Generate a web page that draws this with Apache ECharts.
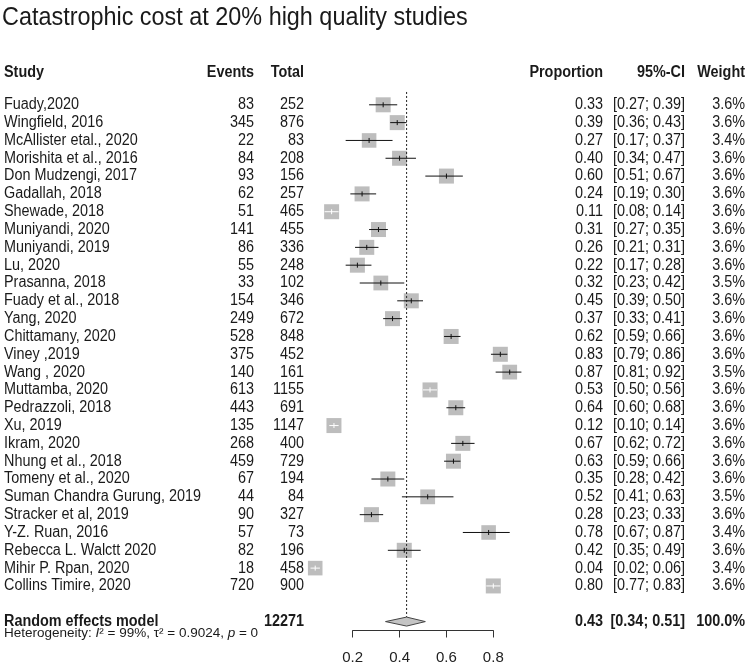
<!DOCTYPE html>
<html><head><meta charset="utf-8">
<script src="https://cdn.jsdelivr.net/npm/echarts/dist/echarts.min.js"></script>
<style>html,body{margin:0;padding:0;background:#fff}#c{width:749px;height:666px}</style>
</head><body><div id="c"></div>
<script>
// ---------- data ----------
const title = 'Catastrophic cost at 20% high quality studies';
const headers = ['Study', 'Events', 'Total', 'Proportion', '95%-CI', 'Weight'];
const studies = ['Fuady,2020', 'Wingfield, 2016', 'McAllister etal., 2020', 'Morishita et al., 2016',
  'Don Mudzengi, 2017', 'Gadallah, 2018', 'Shewade, 2018', 'Muniyandi, 2020', 'Muniyandi, 2019',
  'Lu, 2020', 'Prasanna, 2018', 'Fuady et al., 2018', 'Yang, 2020', 'Chittamany, 2020',
  'Viney ,2019', 'Wang , 2020', 'Muttamba, 2020', 'Pedrazzoli, 2018', 'Xu, 2019', 'Ikram, 2020',
  'Nhung et al., 2018', 'Tomeny et al., 2020', 'Suman Chandra Gurung, 2019', 'Stracker et al, 2019',
  'Y-Z. Ruan, 2016', 'Rebecca L. Walctt 2020', 'Mihir P. Rpan, 2020', 'Collins Timire, 2020'];
const events = [83, 345, 22, 84, 93, 62, 51, 141, 86, 55, 33, 154, 249, 528, 375, 140, 613, 443, 135, 268, 459, 67, 44, 90, 57, 82, 18, 720];
const totals = [252, 876, 83, 208, 156, 257, 465, 455, 336, 248, 102, 346, 672, 848, 452, 161, 1155, 691, 1147, 400, 729, 194, 84, 327, 73, 196, 458, 900];
const proportions = [0.33, 0.39, 0.27, 0.40, 0.60, 0.24, 0.11, 0.31, 0.26, 0.22, 0.32, 0.45, 0.37, 0.62, 0.83, 0.87, 0.53, 0.64, 0.12, 0.67, 0.63, 0.35, 0.52, 0.28, 0.78, 0.42, 0.04, 0.80];
const ciLower = [0.27, 0.36, 0.17, 0.34, 0.51, 0.19, 0.08, 0.27, 0.21, 0.17, 0.23, 0.39, 0.33, 0.59, 0.79, 0.81, 0.50, 0.60, 0.10, 0.62, 0.59, 0.28, 0.41, 0.23, 0.67, 0.35, 0.02, 0.77];
const ciUpper = [0.39, 0.43, 0.37, 0.47, 0.67, 0.30, 0.14, 0.35, 0.31, 0.28, 0.42, 0.50, 0.41, 0.66, 0.86, 0.92, 0.56, 0.68, 0.14, 0.72, 0.66, 0.42, 0.63, 0.33, 0.87, 0.49, 0.06, 0.83];
const weights = [3.6, 3.6, 3.4, 3.6, 3.6, 3.6, 3.6, 3.6, 3.6, 3.6, 3.5, 3.6, 3.6, 3.6, 3.6, 3.5, 3.6, 3.6, 3.6, 3.6, 3.6, 3.6, 3.5, 3.6, 3.4, 3.6, 3.4, 3.6];
const summaryLabel = 'Random effects model';
const summaryTotal = 12271;
const summaryEst = 0.43, summaryLower = 0.34, summaryUpper = 0.51;
const summaryWeight = '100.0%';
const heterogeneity = { I2: '99%', tau2: '0.9024', p: '0' };
const xMin = 0.2, xMax = 0.8, xInterval = 0.2;

// ---------- layout / style ----------
const FONT = "'Liberation Sans', Arial, sans-serif";
const SX = 0.9;              // horizontal squeeze of the text
const FS = 16;
const TXT = '#1a1a1a';
const BOXCOL = '#bdbdbd';
const BOX = 15;
const COL = { study: 4, events: 254, total: 304, prop: 603, ci: 685, weight: 745 };
const SUMROW = studies.length + 1;

function txt(x, y, s, align, bold, size) {
  return {
    type: 'text', x: x, y: y, scaleX: SX, silent: true,
    style: { text: s, x: 0, y: 0, align: align, verticalAlign: 'middle',
      fontFamily: FONT, fontSize: size || FS, fontWeight: bold ? 'bold' : 'normal', fill: TXT }
  };
}
const f2 = v => v.toFixed(2);
const ciTxt = (a, b) => '[' + f2(a) + '; ' + f2(b) + ']';

const studyData = studies.map((s, i) => [proportions[i], i, ciLower[i], ciUpper[i], weights[i]]);

function renderStudy(params, api) {
  const p = api.value(0), i = api.value(1), lo = api.value(2), hi = api.value(3), w = api.value(4);
  const c = api.coord([p, i]);
  const cl = api.coord([lo, i]), ch = api.coord([hi, i]);
  const s = BOX * Math.sqrt(w / 3.6);
  const lc = (ch[0] - cl[0]) < s ? '#ffffff' : '#111111';
  const y = c[1];
  return { type: 'group', children: [
    { type: 'rect', shape: { x: c[0] - s / 2, y: y - s / 2, width: s, height: s }, style: { fill: BOXCOL } },
    { type: 'line', shape: { x1: cl[0], y1: y, x2: ch[0], y2: y }, style: { stroke: lc, lineWidth: 1 } },
    { type: 'line', shape: { x1: c[0], y1: y - 2.5, x2: c[0], y2: y + 2.5 }, style: { stroke: lc, lineWidth: 1 } },
    txt(COL.study, y, studies[i], 'left'),
    txt(COL.events, y, String(events[i]), 'right'),
    txt(COL.total, y, String(totals[i]), 'right'),
    txt(COL.prop, y, f2(p), 'right'),
    txt(COL.ci, y, ciTxt(lo, hi), 'right'),
    txt(COL.weight, y, weights[i].toFixed(1) + '%', 'right')
  ] };
}

function renderSummary(params, api) {
  const est = api.value(0), r = api.value(1), lo = api.value(2), hi = api.value(3);
  const c = api.coord([est, r]), cl = api.coord([lo, r]), ch = api.coord([hi, r]);
  const top = api.coord([est, -0.72]);
  const hy = api.coord([est, -1.8])[1];
  const hetY = api.coord([est, r + 0.66])[1];
  const y = c[1], h = 4.5;
  return { type: 'group', children: [
    { type: 'line', shape: { x1: c[0], y1: top[1], x2: c[0], y2: y - h }, style: { stroke: '#222', lineWidth: 1, lineDash: [2, 2] } },
    { type: 'polygon', shape: { points: [[cl[0], y], [c[0], y - h], [ch[0], y], [c[0], y + h]] }, style: { fill: '#c4c4c4', stroke: '#444', lineWidth: 1 } },
    txt(COL.study, hy, headers[0], 'left', true),
    txt(COL.events, hy, headers[1], 'right', true),
    txt(COL.total, hy, headers[2], 'right', true),
    txt(COL.prop, hy, headers[3], 'right', true),
    txt(COL.ci, hy, headers[4], 'right', true),
    txt(COL.weight, hy, headers[5], 'right', true),
    txt(COL.study, y, summaryLabel, 'left', true),
    txt(COL.total, y, String(summaryTotal), 'right', true),
    txt(COL.prop, y, f2(est), 'right', true),
    txt(COL.ci, y, ciTxt(lo, hi), 'right', true),
    txt(COL.weight, y, summaryWeight, 'right', true),
    { type: 'text', x: COL.study, y: hetY, silent: true,
      style: { text: '{n|Heterogeneity: }{i|I}{n|² = ' + heterogeneity.I2 + ', τ² = ' + heterogeneity.tau2 + ', }{i|p}{n| = ' + heterogeneity.p + '}',
        x: 0, y: 0, align: 'left', verticalAlign: 'middle',
        rich: { n: { fontFamily: FONT, fontSize: 13.5, fill: TXT }, i: { fontFamily: FONT, fontSize: 13.5, fontStyle: 'italic', fill: TXT } } } }
  ] };
}

const chart = echarts.init(document.getElementById('c'), null, { renderer: 'canvas' });
const ROWH = 17.82, ROW0 = 104.8, YMIN = -2, YMAX = SUMROW + 0.5;
chart.setOption({
  animation: false,
  backgroundColor: '#ffffff',
  graphic: [{ type: 'text', left: 2, top: 5, scaleX: SX,
    style: { text: title, fontFamily: FONT, fontSize: 26, fill: TXT } }],
  grid: { left: 352.7, width: 140.6, top: ROW0 + YMIN * ROWH, height: (YMAX - YMIN) * ROWH },
  xAxis: { type: 'value', min: xMin, max: xMax, interval: xInterval, position: 'bottom',
    axisLine: { show: true, onZero: false, lineStyle: { color: '#333', width: 1 } },
    axisTick: { show: true, inside: false, length: 7, lineStyle: { color: '#333' } },
    axisLabel: { fontFamily: FONT, fontSize: 15, color: '#222', margin: 20, formatter: v => v.toFixed(1) },
    splitLine: { show: false } },
  yAxis: { type: 'value', inverse: true, min: YMIN, max: YMAX, show: false },
  series: [
    { type: 'custom', clip: false, renderItem: renderStudy, data: studyData, encode: { x: [0, 2, 3], y: 1 } },
    { type: 'custom', clip: false, renderItem: renderSummary, data: [[summaryEst, SUMROW, summaryLower, summaryUpper]], encode: { x: [0, 2, 3], y: 1 } }
  ]
});
</script></body></html>
